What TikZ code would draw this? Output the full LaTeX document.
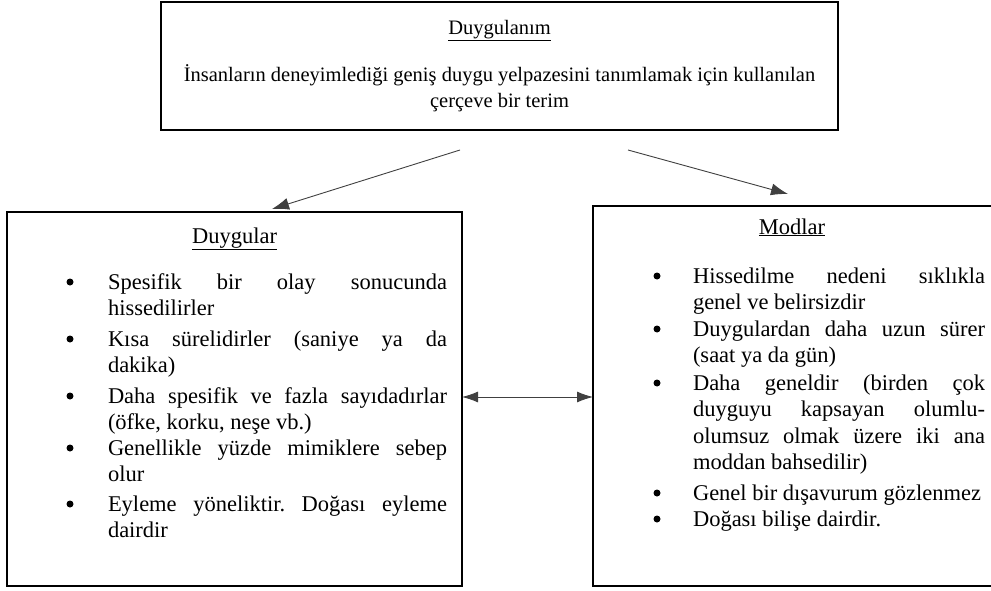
\documentclass[tikz,border=0pt]{standalone}
\usepackage{fontspec}
\setmainfont{Liberation Serif}
\usetikzlibrary{arrows.meta}
\frenchspacing
\tolerance=9999
\hbadness=10000
\hyphenpenalty=10000
\begin{document}
\begin{tikzpicture}[x=1pt,y=-1pt,
  panel/.style={draw=black, line width=1.8pt, rectangle, inner sep=0pt, outer sep=0pt, anchor=north west},
  conn/.style={draw=black!75, line width=0.9pt},
  tip/.style={-{Latex[length=17pt,width=12pt]}},
  twotip/.style={{Latex[length=16pt,width=11pt]}-{Latex[length=16pt,width=11pt]}},
  headfont/.style={font=\fontsize{20.5}{26}\selectfont, inner sep=0pt, outer sep=0pt},
  body/.style={font=\fontsize{22.5}{26.5}\selectfont, inner sep=0pt, outer sep=0pt},
  lefttext/.style={body, anchor=north west, align=justify, text width=339pt},
  righttext/.style={body, anchor=north west, align=justify, text width=292pt},
  heading/.style={body, anchor=base},
  dot/.style={circle, fill=black, inner sep=0pt, minimum size=7pt},
]
\useasboundingbox (0,0) rectangle (991,591);

% three panels
\node[panel, minimum width=677pt, minimum height=128pt] (top) at (161,2) {};
\node[panel, minimum width=455pt, minimum height=374pt] (duygular) at (7,212) {};
\node[panel, minimum width=403pt, minimum height=380pt] (modlar) at (593,206) {};

% top panel text
\node[headfont, anchor=base] (toptitle) at (499.5,34.5) {\underline{Duygulanım}};
\node[headfont, anchor=north, align=center] (topdef) at (499.5,62)
  {\rule{0pt}{20pt}İnsanların deneyimlediği geniş duygu yelpazesini tanımlamak için kullanılan\\çerçeve bir terim};

% connectors
\coordinate (srcL) at (460,150);
\coordinate (dstL) at (272,209);
\coordinate (srcR) at (628,150);
\coordinate (dstR) at (788,194);
\coordinate (midrow) at (0,397);
\draw[conn, tip] (srcL) -- (dstL);
\draw[conn, tip] (srcR) -- (dstR);
\draw[conn, twotip] (duygular.east |- midrow) -- (modlar.west |- midrow);

% left panel
\node[heading] (ltitle) at (234.5,243) {\underline{Duygular}};
\node[dot] (lb1) at (70,282) {};
\node[lefttext] (li1) at (108,268) {\rule{0pt}{21pt}Spesifik bir olay sonucunda\linebreak hissedilirler};
\node[dot] (lb2) at (70,339) {};
\node[lefttext] (li2) at (108,325) {\rule{0pt}{21pt}Kısa sürelidirler (saniye ya da\linebreak dakika)};
\node[dot] (lb3) at (70,396) {};
\node[lefttext] (li3) at (108,382) {\rule{0pt}{21pt}Daha spesifik ve fazla sayıdadırlar\linebreak (öfke, korku, neşe vb.)};
\node[dot] (lb4) at (70,448) {};
\node[lefttext] (li4) at (108,434) {\rule{0pt}{21pt}Genellikle yüzde mimiklere sebep\linebreak olur};
\node[dot] (lb5) at (70,504) {};
\node[lefttext] (li5) at (108,490) {\rule{0pt}{21pt}Eyleme yöneliktir. Doğası eyleme\linebreak dairdir};

% right panel
\node[heading] (rtitle) at (792,234) {\underline{Modlar}};
\node[dot] (rb1) at (657,276) {};
\node[righttext] (ri1) at (693,262) {\rule{0pt}{21pt}Hissedilme nedeni sıklıkla\linebreak genel ve belirsizdir};
\node[dot] (rb2) at (657,329) {};
\node[righttext] (ri2) at (693,315) {\rule{0pt}{21pt}Duygulardan daha uzun sürer\linebreak (saat ya da gün)};
\node[dot] (rb3) at (657,383) {};
\node[righttext] (ri3) at (693,369) {\rule{0pt}{21pt}Daha geneldir (birden çok\linebreak duyguyu kapsayan olumlu-\linebreak olumsuz olmak üzere iki ana\linebreak moddan bahsedilir)};
\node[dot] (rb4) at (657,493) {};
\node[righttext] (ri4) at (693,479) {\rule{0pt}{21pt}Genel bir dışavurum gözlenmez};
\node[dot] (rb5) at (657,519) {};
\node[righttext] (ri5) at (693,505) {\rule{0pt}{21pt}Doğası bilişe dairdir.};
\end{tikzpicture}
\end{document}
